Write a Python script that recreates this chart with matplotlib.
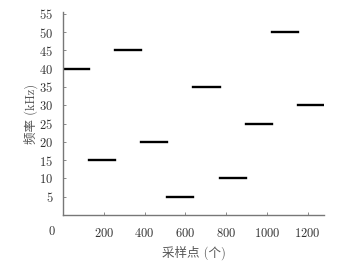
import matplotlib
matplotlib.use("Agg")
import matplotlib.pyplot as plt

# frequency of each hop (kHz), each held for one block of samples
freqs_khz  = [40, 15, 45, 20, 5, 35, 10, 25, 50, 30]
block_len  = 128
xticks     = [200, 400, 600, 800, 1000, 1200]
yticks     = [5, 10, 15, 20, 25, 30, 35, 40, 45, 50, 55]
x_label    = "采样点 (个)"
y_label    = "频率 (kHz)"

plt.rcParams["font.family"] = ["cmr10", "Noto Sans CJK SC", "DejaVu Serif"]
plt.rcParams["axes.formatter.use_mathtext"] = True

TEXT_COLOR  = "#333333"
LABEL_COLOR = "#555555"
SPINE_COLOR = "#777777"

fig = plt.figure(figsize=(3.54, 2.67), dpi=100)
ax = fig.add_axes([0.178, 0.195, 0.737, 0.76])

for i, f in enumerate(freqs_khz):
    x0 = i * block_len
    ax.plot([x0, x0 + block_len], [f, f], color="black", linewidth=1.7,
            solid_capstyle="projecting")

ax.set_xlim(0, 1280)
ax.set_ylim(0, 55.5)
ax.set_xticks(xticks)
ax.set_yticks(yticks)
ax.tick_params(direction="in", length=2.5, width=0.6, colors=SPINE_COLOR,
               labelcolor=TEXT_COLOR, labelsize=9)
ax.tick_params(axis="x", pad=9)
ax.tick_params(axis="y", pad=7)

for side in ("top", "right"):
    ax.spines[side].set_visible(False)
for side in ("left", "bottom"):
    ax.spines[side].set_color(SPINE_COLOR)
    ax.spines[side].set_linewidth(1.0)

# origin label sits to the lower-left of the corner
ax.annotate("0", xy=(0, 0), xycoords="axes fraction", xytext=(-8, -12.5),
            textcoords="offset points", ha="center", va="center",
            fontsize=9, color=TEXT_COLOR)

ax.set_xlabel(x_label, fontsize=9, color=LABEL_COLOR, labelpad=4)
ax.set_ylabel(y_label, fontsize=9, color=LABEL_COLOR, labelpad=1)

fig.savefig("out.png", dpi=100)
